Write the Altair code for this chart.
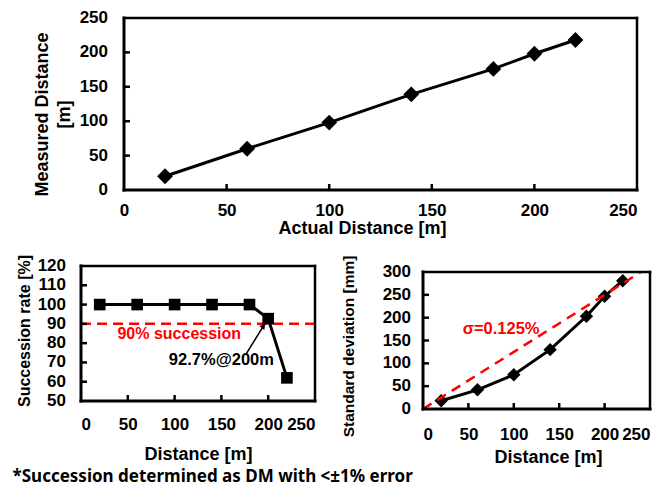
import altair as alt
import pandas as pd

# ---------------- data ----------------
distance = [20, 60, 100, 140, 180, 200, 220]
measured = [20, 60, 98, 139, 176, 198, 218]
success_rate = [100, 100, 100, 100, 100, 92.7, 62]
std_dev = [18, 42, 75, 130, 203, 247, 281]

x_tick_values = [0, 50, 100, 150, 200, 250]
x_inner_ticks = [50, 100, 150, 200]
top_y_labels = [0, 50, 100, 150, 200, 250]
top_y_inner = [50, 100, 150, 200]
rate_labels = [50, 60, 70, 80, 90, 100, 110, 120]
rate_inner = [60, 70, 80, 90, 100, 110]
std_labels = [0, 50, 100, 150, 200, 250, 300]
std_inner = [50, 100, 150, 200, 250]

x_range = [0, 250]
top_y_range = [0, 250]
rate_range = [50, 120]
std_range = [0, 300]

threshold = 90
sigma_x = [0, 240]
sigma_y = [0, 300]

threshold_text = "90% succession"
threshold_text_pos = (105, 85)
point_text = "92.7%@200m"
point_text_pos = (150, 71.5)
arrow_from = (176, 74)
arrow_to = (195, 89)
sigma_text = "σ=0.125%"
sigma_text_pos = (86, 175)
footnote = "*Succession determined as DM with <±1% error"

FONT = "Liberation Sans"
RED = "#FF0000"
TICK_W = 2.5
LABEL_SIZE = 17


def make_enc(xs, xax, ys, yax):
    def X(f="d"):
        return alt.X(f"{f}:Q", scale=xs, axis=xax)

    def Y(f):
        return alt.Y(f"{f}:Q", scale=ys, axis=yax)
    return X, Y


def frame(X, Y, yf, yr):
    """Box around the plot, drawn from the axis ranges through the scales."""
    out = []
    for xv, w in ((x_range[0], 3.0), (x_range[1], 2.5)):
        df = pd.DataFrame({"d": [xv], yf: [yr[0]], yf + "2": [yr[1]]})
        out.append(alt.Chart(df).mark_rule(color="black", strokeWidth=w, strokeCap="square")
                   .encode(x=X(), y=Y(yf), y2=f"{yf}2:Q"))
    for yv, w in ((yr[0], 3.0), (yr[1], 2.5)):
        df = pd.DataFrame({yf: [yv], "d": [x_range[0]], "d2": [x_range[1]]})
        out.append(alt.Chart(df).mark_rule(color="black", strokeWidth=w, strokeCap="square")
                   .encode(y=Y(yf), x=X(), x2="d2:Q"))
    return out


def inner_ticks(X, Y, yf, vals_y, h, x0=0):
    yt = alt.Chart(pd.DataFrame({yf: vals_y})).mark_rule(
        color="black", strokeWidth=TICK_W
    ).encode(y=Y(yf), x=alt.value(x0), x2=alt.value(x0 + 6))
    xt = alt.Chart(pd.DataFrame({"d": x_inner_ticks})).mark_rule(
        color="black", strokeWidth=TICK_W
    ).encode(x=X(), y=alt.value(h), y2=alt.value(h - 6))
    return [yt, xt]


def y_labels(Y, yf, vals, xpos):
    df = pd.DataFrame({yf: vals, "lab": [str(v) for v in vals]})
    return alt.Chart(df).mark_text(
        align="right", baseline="middle", font=FONT, fontSize=LABEL_SIZE,
        fontWeight="bold", color="black"
    ).encode(y=Y(yf), x=alt.value(xpos), text="lab:N")


# ---------------- top chart ----------------
# the plot box starts 43 px right of the panel origin so that it sits where the
# reference puts it relative to the lower-left panel
SHIFT = 43
W1, H1 = 513 + SHIFT, 172
xs1 = alt.Scale(domain=[-SHIFT * 250 / 513, 250], nice=False, zero=False)
ys1 = alt.Scale(domain=top_y_range, nice=False)
x_axis1 = alt.Axis(values=x_tick_values, title="Actual Distance [m]", domain=False,
                   labelOverlap=False, labelPadding=12, titlePadding=1, titleX=281,
                   titleFontSize=18)
y_axis1 = alt.Axis(title=["Measured Distance", "[m]"], labels=False, domain=False,
                   titleX=-30, titleY=96, titleFontSize=18, titleLineHeight=22)
X1, Y1 = make_enc(xs1, x_axis1, ys1, y_axis1)
b1 = alt.Chart(pd.DataFrame({"d": distance, "m": measured}))
line1 = b1.mark_line(color="black", strokeWidth=3).encode(x=X1(), y=Y1("m"))
pts1 = b1.mark_point(shape="diamond", filled=True, size=250, color="black", opacity=1).encode(
    x=X1(), y=Y1("m"))
top = alt.layer(line1, pts1, *inner_ticks(X1, Y1, "m", top_y_inner, H1, SHIFT),
                *frame(X1, Y1, "m", top_y_range),
                y_labels(Y1, "m", top_y_labels, SHIFT - 16)).properties(width=W1, height=H1)

# ---------------- bottom-left chart ----------------
W2, H2 = 234, 135
xs2 = alt.Scale(domain=x_range, nice=False)
ys2 = alt.Scale(domain=rate_range, nice=False, zero=False)
x_axis2 = alt.Axis(values=x_tick_values, title="Distance [m]", domain=False,
                   labelOverlap=False, labelPadding=15, titlePadding=13, titleFontSize=18)
y_axis2 = alt.Axis(title="Succession rate [%]", labels=False, domain=False,
                   titleX=-49, titleY=64.5, titleFontSize=16)
X2, Y2 = make_enc(xs2, x_axis2, ys2, y_axis2)
b2 = alt.Chart(pd.DataFrame({"d": distance, "r": success_rate}))
line2 = b2.mark_line(color="black", strokeWidth=3).encode(x=X2(), y=Y2("r"))
pts2 = b2.mark_point(shape="square", filled=True, size=135, color="black", opacity=1).encode(
    x=X2(), y=Y2("r"))
thr = alt.Chart(pd.DataFrame({"r": [threshold]})).mark_rule(
    color=RED, strokeWidth=2.5, strokeDash=[10, 6]
).encode(y=Y2("r"), x=alt.value(0), x2=alt.value(W2))
thr_txt = alt.Chart(pd.DataFrame({"d": [threshold_text_pos[0]], "r": [threshold_text_pos[1]],
                                  "t": [threshold_text]})).mark_text(
    color=RED, font=FONT, fontSize=16, fontWeight="bold"
).encode(x=X2(), y=Y2("r"), text="t:N")
pt_txt = alt.Chart(pd.DataFrame({"d": [point_text_pos[0]], "r": [point_text_pos[1]],
                                 "t": [point_text]})).mark_text(
    color="black", font=FONT, fontSize=16.5, fontWeight="bold"
).encode(x=X2(), y=Y2("r"), text="t:N")
arr = alt.Chart(pd.DataFrame({"d": [arrow_from[0]], "r": [arrow_from[1]],
                              "d2": [arrow_to[0]], "r2": [arrow_to[1]]})).mark_rule(
    color="black", strokeWidth=1.5
).encode(x=X2(), y=Y2("r"), x2="d2:Q", y2="r2:Q")
arr_head = alt.Chart(pd.DataFrame({"d": [arrow_to[0]], "r": [arrow_to[1]]})).mark_point(
    shape="triangle-up", filled=True, size=40, color="black", opacity=1, angle=38
).encode(x=X2(), y=Y2("r"))
bl = alt.layer(thr, line2, pts2, thr_txt, pt_txt, arr, arr_head,
               *inner_ticks(X2, Y2, "r", rate_inner, H2),
               *frame(X2, Y2, "r", rate_range),
               y_labels(Y2, "r", rate_labels, -15)).properties(width=W2, height=H2)

# ---------------- bottom-right chart ----------------
# the box sits 6 px lower than the left one in the reference: the view is 6 px
# taller and the frame is drawn at the 0-300 range
DROP = 6
W3, H3 = 227, 137 + DROP
xs3 = alt.Scale(domain=x_range, nice=False)
ys3 = alt.Scale(domain=[0, 300 * H3 / (H3 - DROP)], nice=False)
x_axis3 = alt.Axis(values=x_tick_values, title="Distance [m]", domain=False,
                   labelOverlap=False, labelPadding=17, titlePadding=6.5, titleX=125,
                   titleFontSize=18)
y_axis3 = alt.Axis(title="Standard deviation [mm]", labels=False, domain=False,
                   titleX=-66.5, titleY=80, titleFontSize=15.5)
X3, Y3 = make_enc(xs3, x_axis3, ys3, y_axis3)
b3 = alt.Chart(pd.DataFrame({"d": distance, "s": std_dev}))
sig = alt.Chart(pd.DataFrame({"d": sigma_x, "s": sigma_y})).mark_line(
    color=RED, strokeWidth=2.5, strokeDash=[10, 7]
).encode(x=X3(), y=Y3("s"))
line3 = b3.mark_line(color="black", strokeWidth=3).encode(x=X3(), y=Y3("s"))
pts3 = b3.mark_point(shape="diamond", filled=True, size=180, color="black", opacity=1).encode(
    x=X3(), y=Y3("s"))
sig_txt = alt.Chart(pd.DataFrame({"d": [sigma_text_pos[0]], "s": [sigma_text_pos[1]],
                                  "t": [sigma_text]})).mark_text(
    color=RED, font=FONT, fontSize=16.5, fontWeight="bold"
).encode(x=X3(), y=Y3("s"), text="t:N")
br = alt.layer(line3, pts3, sig, sig_txt,
               *inner_ticks(X3, Y3, "s", std_inner, H3),
               *frame(X3, Y3, "s", std_range),
               y_labels(Y3, "s", std_labels, -12)).properties(width=W3, height=H3)

bottom = alt.hconcat(bl, br, spacing=22)

chart = alt.vconcat(top, bottom, spacing=15).properties(
    title=alt.TitleParams(text=footnote, orient="bottom", anchor="start", font="Noto Sans",
                          fontSize=17, fontWeight="bold", color="black", offset=2, dx=-3),
    padding={"left": 4, "top": 0, "right": 0, "bottom": 0},
    background="white",
).configure_view(
    stroke="transparent"
).configure_axis(
    ticks=False, tickSize=0, grid=False,
    labelFont=FONT, labelFontSize=LABEL_SIZE, labelFontWeight="bold", labelColor="black",
    titleFont=FONT, titleFontWeight="bold", titleColor="black",
)

chart.save("out.html", embed_options={"renderer": "svg", "actions": False})
